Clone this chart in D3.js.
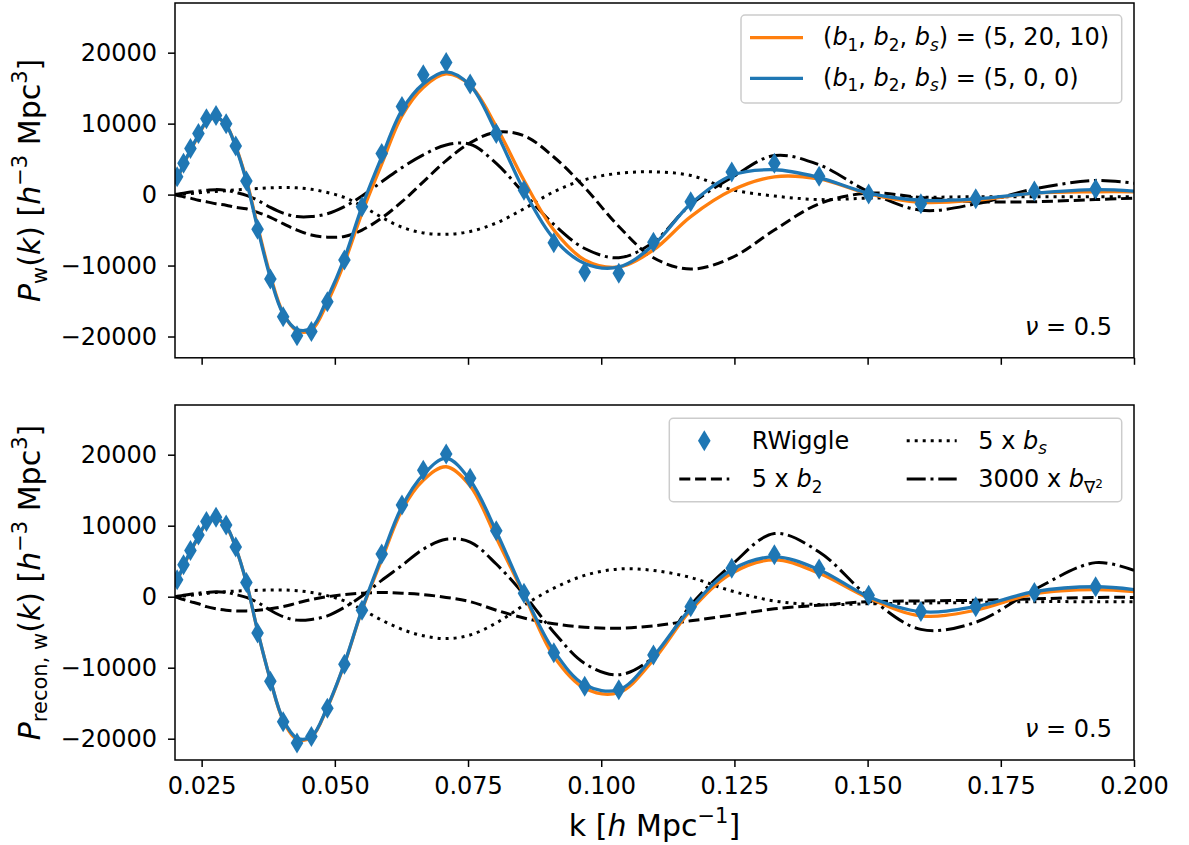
<!DOCTYPE html>
<html>
<head>
<meta charset="utf-8">
<script src="https://cdn.jsdelivr.net/npm/d3@7"></script>
<style>
  body { margin: 0; background: #fff; }
  svg { display: block; font-family: "DejaVu Sans", sans-serif; }
</style>
</head>
<body>
<div id="chart"></div>
<script>
// k grid of the curves and of the RWiggle points
const kLine = [0.0200, 0.0204, 0.0216, 0.0229, 0.0244, 0.0259, 0.0277, 0.0296, 0.0314, 0.0334,
               0.0355, 0.0379, 0.0403, 0.0429, 0.0456, 0.0486, 0.0518, 0.0551, 0.0588, 0.0626,
               0.0666, 0.0709, 0.0754, 0.0803, 0.0855, 0.0911, 0.0969, 0.1033, 0.1098, 0.1168,
               0.1245, 0.1325, 0.1409, 0.1502, 0.1600, 0.1703, 0.1813, 0.1928, 0.2000];
const kMarker = [0.0204, 0.0216, 0.0229, 0.0244, 0.0259, 0.0277, 0.0296, 0.0314, 0.0334,
                 0.0355, 0.0379, 0.0403, 0.0429, 0.0456, 0.0486, 0.0518, 0.0551, 0.0588, 0.0626,
                 0.0666, 0.0709, 0.0754, 0.0803, 0.0855, 0.0911, 0.0969, 0.1033, 0.1098, 0.1168,
                 0.1245, 0.1325, 0.1409, 0.1502, 0.1600, 0.1703, 0.1813, 0.1928];

// top panel: P_w(k)
const topMarker = [2500, 4400, 6500, 8600, 10700, 11150, 10000, 6850, 1900, -4900, -11900, -17200,
                   -19900, -19300, -15100, -9200, -1700, 5800, 12400, 16900, 18600, 15600, 8600, 600,
                   -6800, -10900, -11100, -6700, -1000, 3200, 4400, 2600, 100, -1300, -600, 500, 800];
const topBlue = [1800, 2300, 4300, 6300, 8400, 10300, 10900, 9800, 6700, 1900, -4700, -11700, -16800,
                 -19000, -18800, -14600, -9000, -1700, 5300, 11900, 15600, 17300, 15400, 8800, 600,
                 -6200, -9700, -10200, -7100, -1300, 2700, 3500, 2400, 200, -800, -600, 200, 700, 500];
const topOrange = [1800, 2200, 4200, 6200, 8300, 10200, 10800, 9800, 6800, 2100, -4400, -11400, -16700,
                   -19200, -19100, -15200, -9600, -2600, 4300, 11100, 15100, 17000, 15400, 9600, 2000,
                   -5000, -9200, -10200, -7800, -3100, 600, 2500, 2200, 100, -1100, -800, 200, 400, 400];
const topB2 = [0, -100, -300, -500, -800, -1000, -1300, -1500, -1800, -2000, -2500, -3200, -4100,
               -5000, -5700, -6000, -5900, -5000, -3300, -1000, 1800, 4800, 7300, 8800, 8300,
               5300, 1000, -4500, -8900, -10500, -8900, -5000, -1300, 200, -400, -1000, -1000, -700, -500];
const topBs = [0, 20, 80, 150, 250, 350, 450, 550, 650, 750, 850, 950, 1000, 950, 750, 300, -400,
               -1600, -3200, -4600, -5400, -5600, -5200, -4000, -2000, 400, 2100, 3000, 3200, 2700,
               700, -200, -700, -500, -400, -300, -300, -300, -300];
const topBlap = [0, 50, 200, 350, 500, 600, 700, 600, 300, -100, -800, -1800, -2600, -3100, -3100,
                 -2700, -1700, -200, 1800, 3800, 5600, 7000, 7100, 4400, 200, -4200, -7600, -8900,
                 -6700, -1400, 2400, 5500, 4200, 400, -2200, -1300, 800, 2000, 1600];

// bottom panel: P_recon,w(k)
const botMarker = [2400, 4500, 6500, 8700, 10600, 11200, 10100, 7000, 2000, -5100, -11900, -17600,
                   -20600, -19700, -15700, -9500, -1900, 6000, 12900, 17800, 20100, 16700, 9300, 500,
                   -7900, -12600, -13100, -8200, -1400, 4000, 5900, 3900, 200, -2100, -1400, 600, 1400];
const botBlue = [1900, 2300, 4400, 6400, 8500, 10400, 11000, 10000, 6900, 2000, -4800, -11700, -17300,
                 -19900, -19700, -15500, -9400, -1800, 5600, 12700, 17200, 19500, 16400, 9200, 500,
                 -7600, -12400, -13100, -8400, -1600, 3800, 5600, 3800, 0, -2100, -1400, 700, 1400, 1000];
const botOrange = [1900, 2300, 4300, 6300, 8400, 10300, 10900, 9900, 6900, 2000, -4800, -11700, -17400,
                   -20100, -19800, -15600, -9500, -1900, 5200, 12200, 16400, 18300, 15600, 8300, 300,
                   -8400, -12900, -13500, -8900, -1900, 3300, 5200, 3300, -200, -2700, -1900, 400, 1000, 700];
const botB2 = [0, -100, -400, -700, -1000, -1400, -1700, -1900, -2000, -2000, -1900, -1700, -1400,
               -900, -400, 0, 300, 500, 600, 500, 300, -100, -700, -1900, -3000, -3800, -4300, -4450,
               -4100, -3400, -2600, -1700, -1200, -700, -600, -500, -300, -100, -100];
const botBs = [0, 20, 100, 200, 300, 450, 600, 700, 800, 850, 900, 950, 950, 850, 600, 150, -600,
               -1800, -3300, -4600, -5500, -5900, -5400, -3700, -1200, 1200, 3000, 3900, 3700, 2700,
               800, -600, -1100, -1000, -900, -800, -700, -700, -700];
const botBlap = [0, 50, 200, 350, 500, 600, 700, 600, 300, -100, -800, -1900, -2800, -3300, -3200,
                 -2700, -1500, 100, 2300, 4400, 6700, 8100, 7700, 4600, 300, -5000, -9400, -11000,
                 -8500, -1200, 4500, 8900, 6300, 0, -4600, -3600, 1000, 4800, 3700];

const xTicks = [0.025, 0.050, 0.075, 0.100, 0.125, 0.150, 0.175, 0.200];
const yTicks = [-20000, -10000, 0, 10000, 20000];

const width = 1189, height = 845;
const blue = "#1f77b4", orange = "#ff7f0e";
const fs = 24;

const svg = d3.select("#chart").append("svg")
    .attr("width", width).attr("height", height);

const x = d3.scaleLinear().domain([0.02, 0.2]).range([175, 1134]);

// mathtext-ish text: parts = [text, italic?, "sub"|"sup"|"sub2"|null]
function mathText(sel, parts, size) {
    let cur = 0;
    parts.forEach(([t, it, pos]) => {
        let target = 0, s = size;
        if (pos === "sub") { target = 0.22 * size; s = 0.7 * size; }
        if (pos === "sup") { target = -0.42 * size; s = 0.7 * size; }
        if (pos === "sub2") { target = 0.02 * size; s = 0.5 * size; }
        sel.append("tspan")
            .attr("dy", target - cur)
            .attr("font-size", s)
            .attr("font-style", it ? "italic" : "normal")
            .text(t);
        cur = target;
    });
}

const dashes = {b2: "11,4.8", bs: "3,5", blap: "19,4.8,3,4.8"};
const diamond = "M0,-10.5L6.3,0L0,10.5L-6.3,0Z";

function panel(top, bottom, id, s) {
    const y = d3.scaleLinear().domain([-23000, 27000]).range([bottom, top]);
    const g = svg.append("g");

    g.append("clipPath").attr("id", id)
      .append("rect").attr("x", 175).attr("y", top).attr("width", 959).attr("height", bottom - top);

    const line = vals => d3.line().curve(d3.curveCatmullRom.alpha(0.5))
        .x((d, i) => x(kLine[i])).y(d => y(d))(vals);
    const plot = g.append("g").attr("clip-path", `url(#${id})`);

    [["b2", s.b2], ["bs", s.bs], ["blap", s.blap]].forEach(([k, v]) => {
        plot.append("path").attr("d", line(v))
            .attr("fill", "none").attr("stroke", "#000").attr("stroke-width", 3)
            .attr("stroke-dasharray", dashes[k]);
    });
    plot.append("path").attr("d", line(s.orange))
        .attr("fill", "none").attr("stroke", orange).attr("stroke-width", 3.3);
    plot.append("path").attr("d", line(s.blue))
        .attr("fill", "none").attr("stroke", blue).attr("stroke-width", 3.3);
    plot.selectAll(".pt").data(s.marker).join("path")
        .attr("class", "pt")
        .attr("d", diamond).attr("fill", blue)
        .attr("transform", (d, i) => `translate(${x(kMarker[i])},${y(d)})`);

    // axes
    const ax = g.append("g").attr("transform", "translate(175,0)")
        .call(d3.axisLeft(y).tickValues(yTicks).tickSize(7).tickPadding(11)
              .tickFormat(d => d < 0 ? "\u2212" + Math.abs(d) : d));
    const bx = g.append("g").attr("transform", `translate(0,${bottom})`)
        .call(d3.axisBottom(x).tickValues(xTicks).tickSize(7).tickPadding(9.5)
              .tickFormat(s.xLabels ? d3.format(".3f") : ""));
    [ax, bx].forEach(a => {
        a.select(".domain").remove();
        a.selectAll("line").attr("stroke-width", 1.5);
        a.selectAll("text").attr("font-size", fs).attr("fill", "#000")
            .attr("font-family", "DejaVu Sans");
    });

    g.append("rect").attr("x", 175).attr("y", top).attr("width", 959).attr("height", bottom - top)
        .attr("fill", "none").attr("stroke", "#000").attr("stroke-width", 1.5);

    // y label
    const yl = g.append("text")
        .attr("transform", `translate(40,${(top + bottom) / 2}) rotate(-90)`)
        .attr("text-anchor", "middle").attr("font-size", 30);
    mathText(yl, s.ylabel, 30);

    // nu label
    const nu = g.append("text").attr("x", 1112).attr("y", bottom - 23)
        .attr("text-anchor", "end").attr("font-size", fs);
    mathText(nu, [["\u03bd", true, null], [" = 0.5", false, null]], fs);

    return {g, y};
}

const P1 = panel(3, 357.8, "clipTop", {
    marker: topMarker, blue: topBlue, orange: topOrange, b2: topB2, bs: topBs, blap: topBlap,
    xLabels: false,
    ylabel: [["P", true, null], ["w", false, "sub"], ["(", false, null], ["k", true, null],
             [") [", false, null], ["h", true, null], ["\u22123", false, "sup"], [" Mpc", false, null],
             ["3", false, "sup"], ["]", false, null]]
});
const P2 = panel(405, 760, "clipBot", {
    marker: botMarker, blue: botBlue, orange: botOrange, b2: botB2, bs: botBs, blap: botBlap,
    xLabels: true,
    ylabel: [["P", true, null], ["recon, w", false, "sub"], ["(", false, null], ["k", true, null],
             [") [", false, null], ["h", true, null], ["\u22123", false, "sup"], [" Mpc", false, null],
             ["3", false, "sup"], ["]", false, null]]
});

// x label
const xl = svg.append("text").attr("x", 654.5).attr("y", 836)
    .attr("text-anchor", "middle").attr("font-size", 30);
mathText(xl, [["k [", false, null], ["h", true, null], [" Mpc", false, null],
              ["\u22121", false, "sup"], ["]", false, null]], 30);

// legend, top panel
const L1 = svg.append("g");
L1.append("rect").attr("x", 741).attr("y", 15).attr("width", 380.7).attr("height", 88).attr("rx", 4)
    .attr("fill", "#fff").attr("fill-opacity", 0.8).attr("stroke", "#cccccc").attr("stroke-width", 1.5);
const leg1 = [
    {c: orange, y: 37.7, text: [["(", false, null], ["b", true, null], ["1", false, "sub"], [", ", false, null],
        ["b", true, null], ["2", false, "sub"], [", ", false, null], ["b", true, null], ["s", true, "sub"],
        [") = (5, 20, 10)", false, null]]},
    {c: blue, y: 78.3, text: [["(", false, null], ["b", true, null], ["1", false, "sub"], [", ", false, null],
        ["b", true, null], ["2", false, "sub"], [", ", false, null], ["b", true, null], ["s", true, "sub"],
        [") = (5, 0, 0)", false, null]]}
];
leg1.forEach(e => {
    L1.append("line").attr("x1", 750).attr("x2", 803).attr("y1", e.y).attr("y2", e.y)
        .attr("stroke", e.c).attr("stroke-width", 3.3);
    const t = L1.append("text").attr("x", 823).attr("y", e.y + 7.6).attr("font-size", fs);
    mathText(t, e.text, fs);
});

// legend, bottom panel
const L2 = svg.append("g");
L2.append("rect").attr("x", 669.3).attr("y", 418.3).attr("width", 452.4).attr("height", 83.4).attr("rx", 4)
    .attr("fill", "#fff").attr("fill-opacity", 0.8).attr("stroke", "#cccccc").attr("stroke-width", 1.5);
L2.append("path").attr("d", diamond).attr("fill", blue).attr("transform", "translate(704.3,440.7)");
const leg2 = [
    {x: 679.3, y: 479, dash: dashes.b2, tx: 751.7, text: [["5 x ", false, null], ["b", true, null], ["2", false, "sub"]]},
    {x: 906.7, y: 440.7, dash: dashes.bs, tx: 978.3, text: [["5 x ", false, null], ["b", true, null], ["s", true, "sub"]]},
    {x: 906.7, y: 479, dash: dashes.blap, tx: 978.3, text: [["3000 x ", false, null], ["b", true, null],
        ["\u2207", false, "sub"], ["2", false, "sub2"]]}
];
L2.append("text").attr("x", 751.7).attr("y", 440.7 + 8.3).attr("font-size", fs).text("RWiggle");
leg2.forEach(e => {
    L2.append("line").attr("x1", e.x).attr("x2", e.x + 50).attr("y1", e.y).attr("y2", e.y)
        .attr("stroke", "#000").attr("stroke-width", 3).attr("stroke-dasharray", e.dash);
    const t = L2.append("text").attr("x", e.tx).attr("y", e.y + 8.3).attr("font-size", fs);
    mathText(t, e.text, fs);
});
</script>
</body>
</html>
